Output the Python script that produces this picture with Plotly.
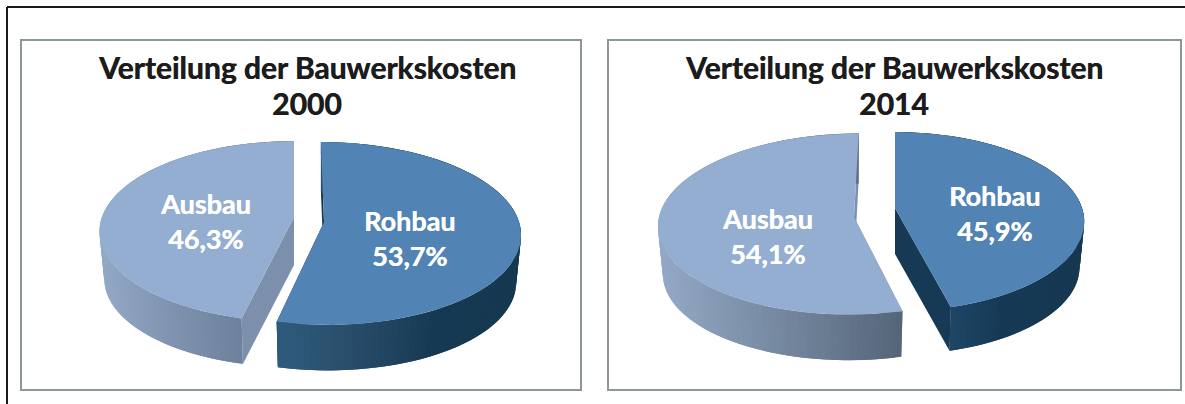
import numpy as np
import plotly.graph_objects as go

# ---- data ----
categories = ["Rohbau", "Ausbau"]
years = ["2000", "2014"]
shares_2000 = [53.7, 46.3]
shares_2014 = [45.9, 54.1]
chart_title = "Verteilung der Bauwerkskosten"

# ---- styling / geometry of the drawing ----
W, H = 1185, 404
TOP = {"Rohbau": "#5183b4", "Ausbau": "#93aed1"}
PANELS = [(21, 40, 581, 390), (608, 40, 1181, 390)]
TITLE_X = [307, 894]
SLICES = {
    ("2000", "Rohbau"): dict(cx=324, cy=222, rx=195, ry=90, k=0.126, sk=-3.5, h=48,
                             stops=[(278, "#2e5b7c"), (340, "#2a4f6c"), (390, "#214460"), (430, "#173a54"), (530, "#163850")],
                             wall="#14344f", lab=(409, 220)),
    ("2000", "Ausbau"): dict(cx=294, cy=217, rx=192, ry=88, k=0.16, sk=0, h=48,
                             stops=[(100, "#93a9c6"), (172, "#7f93ae"), (242, "#6d819c")],
                             wall="#7c90ab", lab=(205, 203)),
    ("2014", "Rohbau"): dict(cx=895, cy=208, rx=187, ry=87.5, k=0.153, sk=0, h=46,
                             stops=[(950, "#1f4666"), (1000, "#163a56"), (1090, "#163850")],
                             wall="#163a56", lab=(994, 195)),
    ("2014", "Ausbau"): dict(cx=854, cy=217, rx=195, ry=90, k=0.078, sk=5, h=48,
                             stops=[(655, "#95aac7"), (800, "#6f8299"), (902, "#556579")],
                             wall="#7c90ab", lab=(767, 218)),
}
SHRINK = 0.975


def hex2rgb(c):
    return np.array([int(c[i:i + 2], 16) for i in (1, 3, 5)], float)


def grad(x, stops):
    xs = [s[0] for s in stops]
    cs = np.array([hex2rgb(s[1]) for s in stops])
    v = [np.interp(x, xs, cs[:, i]) for i in range(3)]
    return "rgb(%d,%d,%d)" % tuple(v)


def project(g, t, bottom=False):
    """Perspective view of the point at clockwise angle t (radians) on the pie rim."""
    X, Y = np.sin(t), np.cos(t)
    w = 1 + g["k"] * Y
    sx = (g["rx"] * X + g["sk"] * Y) / w
    sy = -g["ry"] * Y / w
    if bottom:
        return g["cx"] + SHRINK * sx, g["cy"] + g["h"] + SHRINK * sy
    return g["cx"] + sx, g["cy"] + sy


fig = go.Figure()


def poly(xs, ys, color):
    fig.add_trace(go.Scatter(x=list(xs), y=list(ys), mode="lines", fill="toself",
                             fillcolor=color, line=dict(width=0),
                             hoverinfo="skip", showlegend=False))


tops = []
for year, shares in zip(years, [shares_2000, shares_2014]):
    total = sum(shares)
    start = 0.0
    for cat, val in zip(categories, shares):
        g = SLICES[(year, cat)]
        t0 = start / total * 2 * np.pi
        t1 = (start + val) / total * 2 * np.pi
        start += val
        # radial walls
        for t in (t0, t1):
            tx, ty = project(g, t)
            bx, by = project(g, t, True)
            poly([g["cx"], tx, bx, g["cx"], g["cx"]],
                 [g["cy"], ty, by, g["cy"] + g["h"], g["cy"]], g["wall"])
        # rim, drawn as thin overlapping strips so the shade follows the screen position
        ts = np.linspace(t0, t1, 110)
        for i in range(len(ts) - 1):
            a, b = ts[i], ts[min(i + 2, len(ts) - 1)]
            ax, ay = project(g, a)
            bx, by = project(g, b)
            cx, cy = project(g, b, True)
            dx, dy = project(g, a, True)
            poly([ax, bx, cx, dx, ax], [ay, by, cy, dy, ay], grad((ax + bx) / 2, g["stops"]))
        # top face, painted after all walls
        ts = np.linspace(t0, t1, 160)
        px, py = project(g, ts)
        tops.append(([g["cx"], *px, g["cx"]], [g["cy"], *py, g["cy"]], TOP[cat]))
        # label
        lx, ly = g["lab"]
        for dy, s, in ((0, cat), (35, f"{val:.1f}%".replace(".", ","))):
            fig.add_annotation(x=lx, y=ly + dy, text=f"<b>{s}</b>", showarrow=False,
                               font=dict(family="Lato", size=27, color="white",
                                         shadow="0.4px 0 0 white"))

for x, y, c in tops:
    poly(x, y, c)

shapes = [dict(type="rect", x0=a, y0=b, x1=c, y1=d, xref="x", yref="y", layer="below",
               line=dict(color="#8c9899", width=2), fillcolor="white") for a, b, c, d in PANELS]
shapes.append(dict(type="line", x0=7, x1=7, y0=7, y1=H, xref="x", yref="y", line=dict(color="#1a1a1a", width=2)))
shapes.append(dict(type="line", x0=7, x1=W, y0=7, y1=7, xref="x", yref="y", line=dict(color="#1a1a1a", width=2)))

for tx, year in zip(TITLE_X, years):
    for ty, s in ((67, chart_title), (103, year)):
        fig.add_annotation(x=tx, y=ty, text=f"<b>{s}</b>", showarrow=False,
                           font=dict(family="Lato", size=30, color="#1c1c1c",
                                     shadow="0.5px 0 0 #1c1c1c"))

fig.update_layout(width=W, height=H, margin=dict(l=0, r=0, t=0, b=0), paper_bgcolor="white",
                  plot_bgcolor="white", shapes=shapes, showlegend=False,
                  xaxis=dict(range=[0, W], visible=False, fixedrange=True),
                  yaxis=dict(range=[H, 0], visible=False, fixedrange=True))
fig.write_html("out.html", config={"displayModeBar": False},
               post_script="document.body.style.margin='0';document.body.style.overflow='hidden';")
